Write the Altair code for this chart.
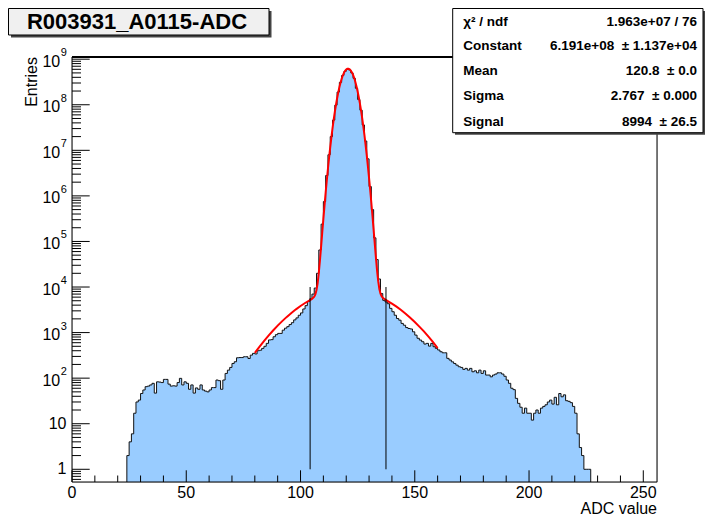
import altair as alt
import pandas as pd

# ---------------- data ----------------
bin_low = list(range(24, 227))          # lower edges of 1-ADC bins
counts = [
    2, 4, 6, 17, 30, 33, 46, 55, 65, 67,            # 24-33
    71, 77, 47, 83, 82, 80, 94, 94, 74, 67,         # 34-43
    68, 67, 80, 99, 71, 83, 77, 57, 71, 47,         # 44-53
    61, 57, 71, 55, 52, 50, 55, 62, 62, 91,         # 54-63
    88, 57, 91, 127, 150, 172, 210, 229, 280, 283,  # 64-73
    283, 295, 295, 270, 320, 350, 340, 400, 410, 450,  # 74-83
    500, 580, 690, 700, 810, 900, 960, 960, 1130, 1250,  # 84-93
    1350, 1500, 1650, 1900, 2100, 2400, 2700, 3300, 3900, 4800,  # 94-103
    5500, 7000, 9500, 2.0e4, 6.5e4, 2.4e5, 7.5e5, 2.8e6, 8.0e6, 2.0e7,  # 104-113
    4.6e7, 9.8e7, 1.9e8, 3.1e8, 4.4e8, 5.4e8, 6.0e8, 5.8e8, 5.0e8, 3.8e8,  # 114-123
    2.3e8, 1.3e8, 7.6e7, 3.6e7, 1.6e7, 6.5e6, 1.6e6, 5.0e5, 1.2e5, 4.0e4,  # 124-133
    1.5e4, 7200, 5100, 4700, 4300, 3400, 2870, 2400, 2040, 1870,  # 134-143
    1590, 1450, 1290, 1230, 1200, 1040, 880, 750, 685, 630,  # 144-153
    560, 580, 505, 580, 490, 450, 415, 380, 360, 360,  # 154-163
    272, 250, 228, 210, 193, 178, 172, 156, 164, 150,  # 164-173
    164, 138, 145, 131, 150, 127, 145, 117, 117, 107,  # 174-183
    117, 123, 131, 131, 123, 110, 91, 77, 60, 56,  # 184-193
    36, 28, 23, 17, 22, 17, 17, 12, 17, 20,  # 194-203
    17, 22, 24, 26, 30, 33, 27, 38, 26, 46,  # 204-213
    39, 43, 32, 31, 29, 24, 17, 6, 3, 2,  # 214-223
    1, 1, 1,  # 224-226
]

# red fit curve
fit_adc = [80, 82, 84, 86, 88, 90, 92, 94, 96, 98, 100, 102, 104, 105, 106,
           106.5, 107, 107.5, 108, 108.5, 109, 109.5, 110, 110.5, 111, 111.5,
           112, 112.5, 113, 113.5, 114, 114.5, 115, 115.5, 116, 116.5, 117,
           117.5, 118, 118.5, 119, 119.5, 120, 120.5, 121, 121.5, 122, 122.5,
           123, 123.5, 124, 124.5, 125, 125.5, 126, 126.5, 127, 127.5, 128,
           128.5, 129, 129.5, 130, 130.5, 131, 131.5, 132, 132.5, 133, 133.5,
           134, 134.5, 135, 135.5, 136, 137, 138, 140, 142, 144, 146, 148,
           150, 152, 154, 156, 158, 160]
fit_val = [358, 487, 651, 857, 1111, 1420, 1785, 2211, 2697, 3238, 3830, 4460,
           5120, 5500, 6150,
           6920, 8560, 12200, 20400, 38300, 76300, 1.55e5, 3.12e5, 6.14e5,
           1.18e6, 2.18e6,
           3.94e6, 6.88e6, 1.16e7, 1.91e7, 3.02e7, 4.64e7, 6.88e7, 9.89e7,
           1.375e8, 1.85e8, 2.41e8,
           3.04e8, 3.71e8, 4.38e8, 5.01e8, 5.54e8, 5.94e8, 6.155e8, 6.175e8,
           6.0e8, 5.63e8, 5.13e8,
           4.51e8, 3.85e8, 3.17e8, 2.53e8, 1.96e8, 1.46e8, 1.06e8, 7.42e7,
           5.03e7, 3.30e7, 2.10e7,
           1.29e7, 7.67e6, 4.41e6, 2.46e6, 1.33e6, 6.99e5, 3.57e5, 1.78e5,
           8.8e4, 4.38e4, 2.29e4,
           1.34e4, 9070, 7160, 6270, 5820, 5340, 4980, 4330, 3710, 3130, 2600,
           2120, 1710, 1350, 1060, 812, 615, 458]

# signal window markers
window_adc = [104.2, 137.4]
window_lo = [1, 1]
window_hi = [1e4, 1e4]

# axes
x_major = [0, 50, 100, 150, 200, 250]
x_labels = ["0", "50", "100", "150", "200", "250"]
x_minor = [10, 20, 30, 40, 60, 70, 80, 90, 110, 120, 130, 140, 160, 170, 180,
           190, 210, 220, 230, 240]
y_plain = [1, 10]
y_plain_labels = ["1", "10"]
y_pow = [1e2, 1e3, 1e4, 1e5, 1e6, 1e7, 1e8, 1e9]
y_pow_exp = ["2", "3", "4", "5", "6", "7", "8", "9"]
Y_MIN, Y_MAX = 0.526, 1.117e9
y_minor = [k * 10.0 ** n for n in range(-1, 9) for k in range(2, 10)
           if Y_MIN < k * 10.0 ** n < Y_MAX]

title_text = "R003931_A0115-ADC"
stat_names = ["\u03c7\u00b2 / ndf", "Constant", "Mean", "Sigma", "Signal"]
stat_values = ["1.963e+07 / 76", "6.191e+08 \u00a0\u00b1 1.137e+04",
               "120.8 \u00a0\u00b1 0.0", "2.767 \u00a0\u00b1 0.000",
               "8994 \u00a0\u00b1 26.5"]

# ---------------- chart ----------------
W, H = 585, 425
FONT = "Liberation Sans"
FILL = "#99ccff"

XS = alt.Scale(domain=[0, 256], nice=False, zero=False)
YS = alt.Scale(type="log", domain=[Y_MIN, Y_MAX], nice=False)


def X(f="adc"):
    return alt.X(f"{f}:Q", scale=XS, axis=None)


def Y(f="n"):
    return alt.Y(f"{f}:Q", scale=YS, axis=None)


one = pd.DataFrame({"k": [0]})

# histogram fill (stepped area down to the bottom of the axis)
area_df = pd.DataFrame({"adc": bin_low + [bin_low[-1] + 1],
                        "n": counts + [counts[-1]],
                        "base": [Y_MIN] * (len(bin_low) + 1)})
hist_fill = alt.Chart(area_df).mark_area(
    interpolate="step-after", color=FILL, opacity=1
).encode(
    x=X(),
    y=alt.Y("n:Q", scale=YS, axis=None, stack=None),
    y2="base:Q",
)

# histogram outline
ol_x = [bin_low[0]] + bin_low + [bin_low[-1] + 1, bin_low[-1] + 1]
ol_y = [Y_MIN] + counts + [counts[-1], Y_MIN]
outline_df = pd.DataFrame({"adc": ol_x, "n": ol_y, "i": list(range(len(ol_x)))})
hist_line = alt.Chart(outline_df).mark_line(
    interpolate="step-after", color="#111111", strokeWidth=1
).encode(x=X(), y=Y(), order=alt.Order("i:Q"))

# fit
fit_df = pd.DataFrame({"adc": fit_adc, "n": fit_val})
fit_line = alt.Chart(fit_df).mark_line(color="#ff0000", strokeWidth=2).encode(
    x=X(), y=Y(), order=alt.Order("adc:Q"))

# window lines
win_df = pd.DataFrame({"adc": window_adc, "lo": window_lo, "hi": window_hi})
win = alt.Chart(win_df).mark_rule(color="black", strokeWidth=1).encode(
    x=X(), y=Y("lo"), y2="hi:Q")

# ticks (inward, ROOT style)
xmaj = alt.Chart(pd.DataFrame({"adc": x_major})).mark_rule(
    color="black", strokeWidth=1).encode(x=X(), y=alt.value(H), y2=alt.value(H - 11.7))
xmin = alt.Chart(pd.DataFrame({"adc": x_minor})).mark_rule(
    color="black", strokeWidth=1).encode(x=X(), y=alt.value(H), y2=alt.value(H - 6.5))
ymaj = alt.Chart(pd.DataFrame({"n": y_plain + y_pow})).mark_rule(
    color="black", strokeWidth=1).encode(y=Y(), x=alt.value(0), x2=alt.value(17.7))
ymin = alt.Chart(pd.DataFrame({"n": y_minor})).mark_rule(
    color="black", strokeWidth=1).encode(y=Y(), x=alt.value(0), x2=alt.value(9))

# frame
frame_df = pd.DataFrame({"x": [0, 0, 0, W], "x2": [W, W, 0, W],
                         "y": [0, H, 0, 0], "y2": [0, H, H, H],
                         "w": [2, 1, 1, 1]})
frame = alt.Chart(frame_df).mark_rule(color="black").encode(
    x=alt.X("x:Q", scale=None), x2="x2:Q",
    y=alt.Y("y:Q", scale=None), y2="y2:Q",
    strokeWidth=alt.StrokeWidth("w:Q", scale=None, legend=None))

# tick labels
xlab = alt.Chart(pd.DataFrame({"adc": x_major, "t": x_labels})).mark_text(
    font=FONT, fontSize=16, align="center", baseline="middle", color="black"
).encode(x=X(), y=alt.value(H + 11), text="t:N")
ylab_plain = alt.Chart(pd.DataFrame({"n": y_plain, "t": y_plain_labels})).mark_text(
    font=FONT, fontSize=16, align="right", baseline="middle", color="black"
).encode(y=Y(), x=alt.value(-5.5), text="t:N")
ylab_base = alt.Chart(pd.DataFrame({"n": y_pow, "t": ["10"] * len(y_pow)})).mark_text(
    font=FONT, fontSize=16, align="right", baseline="middle", color="black", dy=2.5
).encode(y=Y(), x=alt.value(-11.8), text="t:N")
ylab_exp = alt.Chart(pd.DataFrame({"n": y_pow, "t": y_pow_exp})).mark_text(
    font=FONT, fontSize=11, align="left", baseline="middle", color="black", dy=-6
).encode(y=Y(), x=alt.value(-11.2), text="t:N")

# axis titles
ytitle = alt.Chart(one).mark_text(
    text="Entries", font=FONT, fontSize=16, angle=270, align="right",
    baseline="middle", color="black"
).encode(x=alt.value(-40.3), y=alt.value(0))
xtitle = alt.Chart(one).mark_text(
    text="ADC value", font=FONT, fontSize=16, align="right",
    baseline="middle", color="black"
).encode(x=alt.value(W), y=alt.value(H + 27))

# title box
tshadow = alt.Chart(one).mark_rect(color="#444444").encode(
    x=alt.value(-61), x2=alt.value(199.5), y=alt.value(-46), y2=alt.value(-19.5))
tbox = alt.Chart(one).mark_rect(fill="#f0f0f0", stroke="black", strokeWidth=1).encode(
    x=alt.value(-63.5), x2=alt.value(197), y=alt.value(-48.5), y2=alt.value(-22))
ttext = alt.Chart(one).mark_text(
    text=title_text, font=FONT, fontSize=22, fontWeight="bold",
    align="center", baseline="middle", color="black"
).encode(x=alt.value(65), y=alt.value(-35))

# stats box
sshadow = alt.Chart(one).mark_rect(color="#444444").encode(
    x=alt.value(383), x2=alt.value(633), y=alt.value(-46), y2=alt.value(77.7))
sbox = alt.Chart(one).mark_rect(fill="white", stroke="black", strokeWidth=1).encode(
    x=alt.value(380.7), x2=alt.value(631), y=alt.value(-48.5), y2=alt.value(75.7))
stat_df = pd.DataFrame({"name": stat_names, "val": stat_values,
                        "row": [-35.3, -11.3, 14, 39, 64.7]})
sname = alt.Chart(stat_df).mark_text(
    font=FONT, fontSize=13.5, fontWeight="bold", align="left",
    baseline="middle", color="black"
).encode(x=alt.value(391.3), y=alt.Y("row:Q", scale=None), text="name:N")
sval = alt.Chart(stat_df).mark_text(
    font=FONT, fontSize=13.5, fontWeight="bold", align="right",
    baseline="middle", color="black"
).encode(x=alt.value(625), y=alt.Y("row:Q", scale=None), text="val:N")

chart = alt.layer(
    hist_fill, hist_line, fit_line, win, xmaj, xmin, ymaj, ymin, frame,
    xlab, ylab_plain, ylab_base, ylab_exp, ytitle, xtitle,
    tshadow, tbox, ttext, sshadow, sbox, sname, sval
).resolve_scale(y="shared").properties(
    width=W, height=H,
    autosize=alt.AutoSizeParams(type="none"),
    padding={"left": 64, "top": 49, "right": 48, "bottom": 34},
).configure_view(stroke=None).configure(background="white")

chart.save("out.html", embed_options={"renderer": "svg", "actions": False})
